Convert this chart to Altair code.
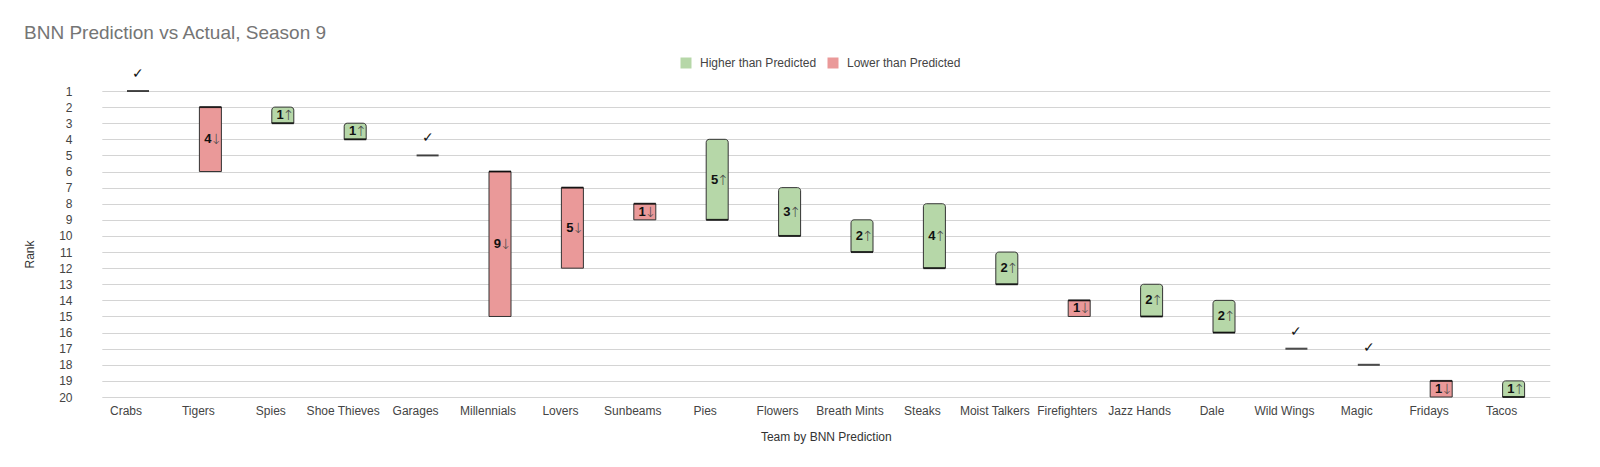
import altair as alt
import pandas as pd

teams = ["Crabs", "Tigers", "Spies", "Shoe Thieves", "Garages", "Millennials", "Lovers",
         "Sunbeams", "Pies", "Flowers", "Breath Mints", "Steaks", "Moist Talkers",
         "Firefighters", "Jazz Hands", "Dale", "Wild Wings", "Magic", "Fridays", "Tacos"]
predicted = [1, 2, 3, 4, 5, 6, 7, 8, 9, 10, 11, 12, 13, 14, 15, 16, 17, 18, 19, 20]
actual = [1, 6, 2, 3, 5, 15, 12, 9, 4, 7, 9, 8, 11, 15, 13, 14, 17, 18, 20, 19]
rank_ticks = [1, 2, 3, 4, 5, 6, 7, 8, 9, 10, 11, 12, 13, 14, 15, 16, 17, 18, 19, 20]

HIGH = "Higher than Predicted"
LOW = "Lower than Predicted"
GREEN = "#b6d7a8"
RED = "#ea9999"
FONT = "Liberation Sans"

rows = []
for t, p, a in zip(teams, predicted, actual):
    if a < p:
        status, num, arrow = HIGH, str(p - a), "↑"
    elif a > p:
        status, num, arrow = LOW, str(a - p), "↓"
    else:
        status, num, arrow = "Exact", "", ""
    rows.append({"team": t, "predicted": p, "actual": a, "lo": min(p, a), "hi": max(p, a),
                 "mid": (p + a) / 2, "num": num, "arrow": arrow, "status": status})
df = pd.DataFrame(rows)

x_enc = alt.X("team:N", sort=teams,
              scale=alt.Scale(range=[24.8, 1472.8], paddingInner=0, paddingOuter=0),
              axis=alt.Axis(title="Team by BNN Prediction", labelAngle=0, labelOffset=-12,
                            labelPadding=8, ticks=False, domain=False, grid=False,
                            labelFontSize=12, labelColor="#444", titleFontSize=12,
                            titleColor="#333", titleFontWeight="normal", titlePadding=15,
                            labelFont=FONT, titleFont=FONT))
y_scale = alt.Scale(domain=[1, 20], reverse=True, nice=False, zero=False)
y_axis = alt.Axis(title="Rank", values=rank_ticks, ticks=False, domain=False, grid=True,
                  gridColor="#d4d4d4", labelFontSize=12, labelColor="#444", labelPadding=5,
                  titleFontSize=12, titleColor="#333", titleFontWeight="normal",
                  titlePadding=22, titleY=163, labelFont=FONT, titleFont=FONT)

color = alt.Color("status:N",
                  scale=alt.Scale(domain=[HIGH, LOW], range=[GREEN, RED]),
                  legend=alt.Legend(title=None, orient="none", direction="horizontal",
                                    legendX=603, legendY=-34, symbolType="square",
                                    symbolSize=121, symbolStrokeWidth=0, labelFontSize=12,
                                    labelColor="#444", labelFont=FONT, labelOffset=8,
                                    columnPadding=10))

base = alt.Chart(df)

green = base.transform_filter(alt.datum.status == HIGH).mark_bar(
    size=22, stroke="#333", strokeWidth=1, cornerRadiusTopLeft=3, cornerRadiusTopRight=3
).encode(x=x_enc, y=alt.Y("lo:Q", scale=y_scale, axis=y_axis), y2="hi:Q", color=color)

red = base.transform_filter(alt.datum.status == LOW).mark_bar(
    size=22, stroke="#333", strokeWidth=1
).encode(x=x_enc, y=alt.Y("lo:Q", scale=y_scale, axis=y_axis), y2="hi:Q", color=color)

ticks = base.mark_tick(thickness=2, size=22, color="black").encode(
    x=x_enc, y=alt.Y("predicted:Q", scale=y_scale, axis=y_axis))

nums = base.transform_filter(alt.datum.status != "Exact").mark_text(
    fontWeight="bold", fontSize=13, color="#111", font=FONT, align="right", dx=1
).encode(x=x_enc, y=alt.Y("mid:Q", scale=y_scale, axis=y_axis), text="num:N")

arrows = base.transform_filter(alt.datum.status != "Exact").mark_text(
    fontSize=14, color="#444", font="DejaVu Sans", fontWeight=200, align="left", dx=0, dy=1
).encode(x=x_enc, y=alt.Y("mid:Q", scale=y_scale, axis=y_axis), text="arrow:N")

checks = base.transform_filter(alt.datum.status == "Exact").mark_text(
    text="✓", fontSize=14, color="#111", dy=-17
).encode(x=x_enc, y=alt.Y("predicted:Q", scale=y_scale, axis=y_axis))

chart = alt.layer(green, red, ticks, nums, arrows, checks).properties(
    width=1474, height=306,
    padding={"left": 69, "top": 83, "right": 41, "bottom": 62},
    autosize=alt.AutoSizeParams(type="none"),
    title=alt.Title("BNN Prediction vs Actual, Season 9", anchor="start", frame="group",
                    fontSize=19, color="#757575", font=FONT, fontWeight="normal",
                    dx=-53, offset=14)
).configure_view(stroke=None)

chart.save("out.html", embed_options={"renderer": "svg", "actions": False})
